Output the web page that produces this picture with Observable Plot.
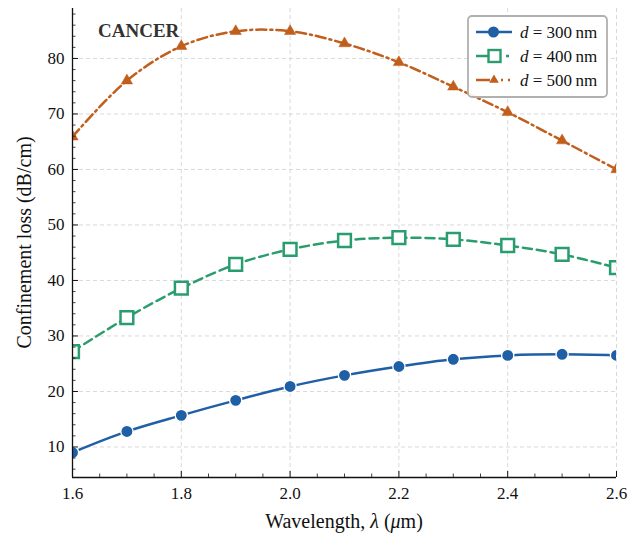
<!DOCTYPE html>
<html><head><meta charset="utf-8">
<script src="https://cdn.jsdelivr.net/npm/d3@7"></script>
<script src="https://cdn.jsdelivr.net/npm/@observablehq/plot@0.6"></script>
<style>
body{margin:0;background:#fff}
#chart{position:relative;width:640px;height:536px}
</style>
</head><body><div id="chart"></div>
<script>
// ---- data ----
const wavelengths = [1.6, 1.7, 1.8, 1.9, 2.0, 2.1, 2.2, 2.3, 2.4, 2.5, 2.6];
const loss300 = [9.0, 12.8, 15.7, 18.4, 20.9, 22.9, 24.5, 25.8, 26.5, 26.7, 26.5];
const loss400 = [27.2, 33.3, 38.6, 42.9, 45.6, 47.2, 47.7, 47.4, 46.3, 44.7, 42.3];
const loss500 = [65.9, 76.0, 82.2, 84.9, 84.9, 82.7, 79.3, 74.9, 70.3, 65.2, 60.0];
const seriesLabels = ["300", "400", "500"];
const xMajor = [1.6, 1.8, 2.0, 2.2, 2.4, 2.6];
const xMinor = [1.65, 1.7, 1.75, 1.85, 1.9, 1.95, 2.05, 2.1, 2.15, 2.25, 2.3, 2.35, 2.45, 2.5, 2.55];
const yMajor = [10, 20, 30, 40, 50, 60, 70, 80];
const yMinor = [6, 8, 12, 14, 16, 18, 22, 24, 26, 28, 32, 34, 36, 38, 42, 44, 46, 48, 52, 54, 56, 58, 62, 64, 66, 68, 72, 74, 76, 78, 82, 84, 86, 88];
const annotation = "CANCER";
const xLabel = "Wavelength, ";
const yLabel = "Confinement loss (dB/cm)";

// ---- styling ----
const colors = ["#1f5fa6", "#2a9d6e", "#c15e1c"];
const dashes = [null, "9,5", "10,4,2,4"];
const legendDashes = [null, "12,18,3,20", "14,11,2,5,2,20"];
const W = 640, H = 536;
const mL = 72, mR = 24, mT = 8, mB = 59;
const pw = W - mL - mR, ph = H - mT - mB;
const xDomain = [1.6, 2.6];
const yDomain = [4.5, 89];
const font = "'Liberation Serif', 'Times New Roman', 'DejaVu Serif', serif";

const seriesValues = [loss300, loss400, loss500];
const rows = seriesValues.map((vals, s) => wavelengths.map((w, i) => ({x: w, y: vals[i], s})));

const lineMarks = rows.map((r, s) => Plot.line(r, {
  x: "x", y: "y", stroke: colors[s], strokeWidth: 2.5,
  strokeDasharray: dashes[s], curve: "catmull-rom", clip: true
}));

const dotMarks = [
  Plot.dot(rows[0], {x: "x", y: "y", r: 6.1, fill: colors[0], stroke: "white", strokeWidth: 1.3, clip: true}),
  Plot.dot(rows[1], {x: "x", y: "y", r: 7.2, symbol: "square", fill: "white", stroke: colors[1], strokeWidth: 2.5, clip: true}),
  Plot.dot(rows[2], {x: "x", y: "y", r: 4.2, symbol: "triangle", fill: colors[2], stroke: colors[2], strokeWidth: 0.5, clip: true})
];

const chart = Plot.plot({
  width: W, height: H,
  marginLeft: mL, marginRight: mR, marginTop: mT, marginBottom: mB,
  style: {fontFamily: font, fontSize: "17px", color: "#111", background: "white"},
  x: {domain: xDomain},
  y: {domain: yDomain},
  marks: [
    Plot.gridY(yMajor, {stroke: "#cfcfcf", strokeOpacity: 1, strokeWidth: 0.8, strokeDasharray: "4,3"}),
    Plot.gridX(xMajor, {stroke: "#cfcfcf", strokeOpacity: 1, strokeWidth: 0.8, strokeDasharray: "4,3"}),
    ...lineMarks,
    ...dotMarks,
    // inward ticks
    Plot.tickY(yMajor, {y: d => d, insetRight: pw - 6, stroke: "#111", strokeWidth: 1}),
    Plot.tickY(yMinor, {y: d => d, insetRight: pw - 3.5, stroke: "#111", strokeWidth: 0.8}),
    Plot.tickX(xMajor, {x: d => d, insetTop: ph - 6, stroke: "#111", strokeWidth: 1}),
    Plot.tickX(xMinor, {x: d => d, insetTop: ph - 3.5, stroke: "#111", strokeWidth: 0.8}),
    // spines
    Plot.ruleX([xDomain[0]], {stroke: "#111", strokeWidth: 1.3}),
    Plot.ruleY([yDomain[0]], {stroke: "#111", strokeWidth: 1.3}),
    Plot.axisY(yMajor, {tickSize: 0, tickPadding: 8, label: null, fontSize: 17, tickFormat: d => String(d)}),
    Plot.axisX(xMajor, {tickSize: 0, tickPadding: 9, label: null, fontSize: 17, tickFormat: d => d.toFixed(1)})
  ]
});
document.getElementById("chart").appendChild(chart);

// ---- annotations, axis labels, legend ----
const svg = d3.select(chart);
svg.append("text").attr("x", 98).attr("y", 37).attr("text-anchor", "start")
  .attr("font-family", font).attr("font-weight", "bold").attr("font-size", 19)
  .attr("fill", "#333").text(annotation);

const xl = svg.append("text").attr("x", mL + pw / 2).attr("y", 528)
  .attr("text-anchor", "middle").attr("font-family", font).attr("font-size", 20).attr("fill", "#111");
xl.append("tspan").text(xLabel);
xl.append("tspan").attr("font-style", "italic").text("λ");
xl.append("tspan").text(" (");
xl.append("tspan").attr("font-style", "italic").text("μ");
xl.append("tspan").text("m)");

svg.append("text").attr("transform", `translate(31,${mT + ph / 2}) rotate(-90)`)
  .attr("text-anchor", "middle").attr("font-family", font).attr("font-size", 20).attr("fill", "#111")
  .text(yLabel);

const lg = svg.append("g");
lg.append("rect").attr("x", 468).attr("y", 16).attr("width", 139).attr("height", 81)
  .attr("rx", 4).attr("fill", "white").attr("fill-opacity", 0.9)
  .attr("stroke", "#b0b0b0").attr("stroke-width", 1.8);
const rowY = [32, 56, 80];
seriesLabels.forEach((lab, s) => {
  const y = rowY[s];
  lg.append("line").attr("x1", 476).attr("x2", 512).attr("y1", y).attr("y2", y)
    .attr("stroke", colors[s]).attr("stroke-width", 2.5)
    .attr("stroke-dasharray", legendDashes[s]);
  if (s === 0) {
    lg.append("circle").attr("cx", 493.5).attr("cy", y).attr("r", 5.5).attr("fill", colors[0]);
  } else if (s === 1) {
    lg.append("rect").attr("x", 488.5).attr("y", y - 6).attr("width", 12).attr("height", 12)
      .attr("fill", "white").attr("stroke", colors[1]).attr("stroke-width", 2.4);
  } else {
    lg.append("path").attr("d", d3.symbol(d3.symbolTriangle, Math.PI * 3.6 * 3.6)())
      .attr("transform", `translate(494,${y})`).attr("fill", colors[2]);
  }
  const t = lg.append("text").attr("x", 520).attr("y", y + 5.5).attr("text-anchor", "start")
    .attr("font-family", font).attr("font-size", 17).attr("fill", "#111");
  t.append("tspan").attr("font-style", "italic").text("d");
  t.append("tspan").text(" = " + lab + "\u2009nm");
});
</script>
</body></html>
